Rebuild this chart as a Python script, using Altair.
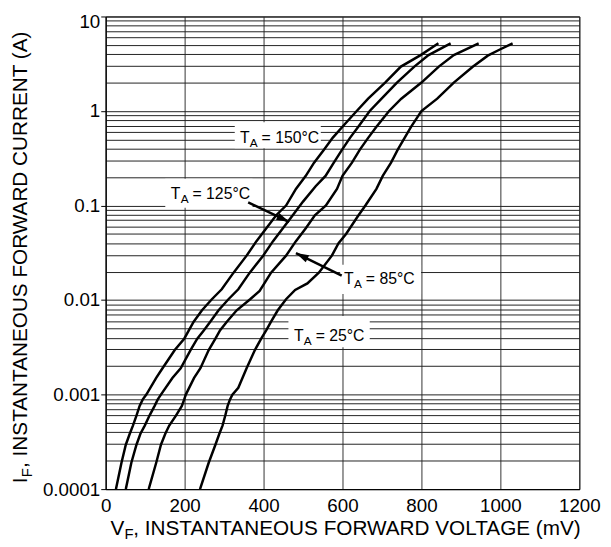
import math
import altair as alt
import pandas as pd

# ---------------- data ----------------
# forward voltage in mV, forward current in A, one pair of lists per temperature
v150 = [26, 40, 51, 61, 69, 78, 86, 94, 103, 128, 144, 175, 199, 211, 223, 244, 269, 294, 324, 357,
        382, 407, 432, 457, 482, 507, 528, 553, 575, 605, 636, 665, 708, 748, 798, 843]
i150 = [1.0e-4, 1.9e-4, 2.95e-4, 3.85e-4, 4.7e-4, 6.0e-4, 7.6e-4, 8.9e-4, 1.0e-3, 1.5e-3, 1.9e-3,
        2.96e-3, 3.9e-3, 4.8e-3, 5.9e-3, 7.8e-3, 1.02e-2, 1.3e-2, 1.95e-2, 2.95e-2, 4.2e-2, 5.75e-2,
        7.9e-2, 0.10, 0.15, 0.206, 0.284, 0.39, 0.52, 0.72, 1.0, 1.35, 2.0, 2.95, 3.9, 5.2]

v125 = [51, 65, 78, 88, 99, 111, 124, 132, 140, 169, 190, 215, 232, 249, 265, 286, 311, 336, 365,
        399, 424, 449, 474, 500, 532, 557, 578, 599, 619, 640, 669, 699, 738, 782, 818, 874]
i125 = [1.0e-4, 1.9e-4, 2.95e-4, 3.85e-4, 4.7e-4, 6.0e-4, 7.6e-4, 8.9e-4, 1.0e-3, 1.5e-3, 1.9e-3,
        2.96e-3, 3.9e-3, 4.8e-3, 5.9e-3, 7.8e-3, 1.02e-2, 1.3e-2, 1.95e-2, 2.95e-2, 4.2e-2, 5.75e-2,
        7.9e-2, 0.11, 0.16, 0.206, 0.284, 0.39, 0.52, 0.68, 1.0, 1.35, 2.0, 2.95, 3.9, 5.2]

v85 = [109, 128, 140, 151, 161, 178, 193, 199, 203, 224, 240, 261, 278, 290, 307, 332, 366, 390,
       419, 457, 482, 507, 530, 558, 586, 600, 624, 644, 665, 686, 718, 749, 800, 844, 882, 945]
i85 = [1.0e-4, 1.9e-4, 2.95e-4, 3.85e-4, 4.7e-4, 6.0e-4, 7.6e-4, 8.9e-4, 1.0e-3, 1.5e-3, 1.9e-3,
       2.96e-3, 3.9e-3, 4.8e-3, 5.9e-3, 7.8e-3, 1.02e-2, 1.25e-2, 1.95e-2, 2.95e-2, 4.2e-2, 5.75e-2,
       7.9e-2, 0.10, 0.15, 0.206, 0.284, 0.39, 0.52, 0.68, 1.0, 1.35, 2.0, 2.95, 3.9, 5.2]

v25 = [239, 261, 278, 288, 296, 303, 309, 315, 321, 336, 357, 378, 394, 407, 419, 436, 457, 480,
       511, 540, 573, 590, 609, 638, 658, 686, 702, 723, 740, 757, 774, 800, 840, 882, 930, 968,
       1000, 1031]
i25 = [1.0e-4, 1.9e-4, 2.95e-4, 3.85e-4, 4.7e-4, 6.0e-4, 7.6e-4, 8.9e-4, 1.0e-3, 1.18e-3, 1.9e-3,
       2.96e-3, 3.9e-3, 4.8e-3, 5.9e-3, 7.8e-3, 1.02e-2, 1.28e-2, 1.5e-2, 1.95e-2, 2.95e-2, 4.0e-2,
       5.0e-2, 7.6e-2, 0.10, 0.15, 0.206, 0.284, 0.39, 0.516, 0.684, 1.0, 1.35, 2.0, 2.94, 3.85,
       4.5, 5.2]

temps = ["150", "125", "85", "25"]
x_ticks = [0, 200, 400, 600, 800, 1000, 1200]
y_decades = [0.0001, 0.001, 0.01, 0.1, 1, 10]
y_decade_labels = ["0.0001", "0.001", "0.01", "0.1", "1", "10"]

# annotation labels (text start at baseline, in data units) and their white boxes
ann_text = ["= 150°C", "= 125°C", "= 85°C", "= 25°C"]
ann_v = [340, 165, 604, 477]
ann_i = [0.455, 0.118, 0.0147, 0.00365]
box_v1 = [327, 151, 594, 463]
box_v2 = [545, 372, 799, 669]
box_i1 = [0.762, 0.192, 0.0237, 0.0068]
box_i2 = [0.404, 0.0948, 0.01156, 0.00316]

# arrows (tail -> tip)
arr_v_tail = [361, 598]
arr_i_tail = [0.108, 0.0181]
arr_v_tip = [465, 482]
arr_i_tip = [0.0671, 0.0314]

# ---------------- build ----------------
FONT = "Liberation Sans, Arial, Helvetica, sans-serif"
W, H = 480, 479

rows = []
for t, vs, cs in zip(temps, [v150, v125, v85, v25], [i150, i125, i85, i25]):
    for v, c in zip(vs, cs):
        rows.append({"T": t, "V": v, "I": c})
df = pd.DataFrame(rows)

ann_df = pd.DataFrame({"V": ann_v, "I": ann_i, "txt": ann_text})
box_df = pd.DataFrame({"x1": box_v1, "x2": box_v2, "y1": box_i1, "y2": box_i2})


def to_px(v, c):
    return v / 1200 * W, (1 - (math.log10(c) + 4) / 5) * H


angles = []
for vt, it, vp, ip in zip(arr_v_tail, arr_i_tail, arr_v_tip, arr_i_tip):
    x0, y0 = to_px(vt, it)
    x1, y1 = to_px(vp, ip)
    th = math.degrees(math.atan2(y1 - y0, x1 - x0))
    angles.append((th + 90) % 360)
arr_df = pd.DataFrame({"Vt": arr_v_tail, "It": arr_i_tail, "Vp": arr_v_tip, "Ip": arr_i_tip,
                       "ang": angles})

ygrid = [float(f"{m}e{k}") for k in range(-4, 1) for m in range(1, 10)] + [10.0]
dec_test = "indexof([" + ",".join(str(d) for d in y_decades) + "], datum.value) >= 0"
label_expr = ""
for d, lab in zip(y_decades, y_decade_labels):
    label_expr += f"datum.value == {d} ? '{lab}' : "
label_expr += "''"

xscale = alt.Scale(domain=[0, 1200], nice=False, zero=False)
yscale = alt.Scale(type="log", domain=[0.0001, 10], nice=False)

xaxis = alt.Axis(values=x_ticks, title=None, grid=True, gridColor="#333", gridWidth=1,
                 ticks=False, tickSize=0, labelPadding=8, labelFontSize=19, labelFont=FONT,
                 labelColor="black", domainColor="black", labelFlush=False, labelOverlap=False,
                 format="d")
yaxis = alt.Axis(values=ygrid, title=None, grid=True, gridColor="#222", gridWidth=1,
                 labelExpr=label_expr, labelFontSize=19, labelFont=FONT, labelColor="black",
                 labelPadding=1, tickSize=5, tickColor="black",
                 tickOpacity={"condition": {"test": dec_test, "value": 1}, "value": 0},
                 labelOffset={"condition": {"test": "datum.value == 10", "value": 5}, "value": 0},
                 domainColor="black", labelOverlap=False, labelFlush=False)

boxes = alt.Chart(box_df).mark_rect(color="white").encode(
    x=alt.X("x1:Q", scale=xscale, axis=xaxis), x2="x2:Q",
    y=alt.Y("y1:Q", scale=yscale, axis=yaxis), y2="y2:Q")

lines = alt.Chart(df).mark_line(color="black", strokeWidth=2.5, clip=True).encode(
    x=alt.X("V:Q", scale=xscale, axis=xaxis),
    y=alt.Y("I:Q", scale=yscale, axis=yaxis),
    detail="T:N", order="V:Q")

arrow_lines = alt.Chart(arr_df).mark_rule(color="black", strokeWidth=2.5).encode(
    x=alt.X("Vt:Q", scale=xscale, axis=xaxis), y=alt.Y("It:Q", scale=yscale, axis=yaxis),
    x2="Vp:Q", y2="Ip:Q")

arrow_heads = alt.Chart(arr_df).mark_point(
    shape="M0,0L-0.6,2L0.6,2Z", filled=True, size=170, color="black", opacity=1).encode(
    x=alt.X("Vp:Q", scale=xscale, axis=xaxis), y=alt.Y("Ip:Q", scale=yscale, axis=yaxis),
    angle=alt.Angle("ang:Q", scale=None))


def ann_layer(text=None, dx=0, dy=0, size=16, field=None):
    kw = dict(align="left", baseline="alphabetic", font=FONT, fontSize=size, color="black",
              dx=dx, dy=dy)
    if text is not None:
        kw["text"] = text
    m = alt.Chart(ann_df).mark_text(**kw)
    enc = dict(x=alt.X("V:Q", scale=xscale, axis=xaxis), y=alt.Y("I:Q", scale=yscale, axis=yaxis))
    if field is not None:
        enc["text"] = alt.Text(field + ":N")
    return m.encode(**enc)


ann_T = ann_layer(text="T")
ann_A = ann_layer(text="A", dx=10, dy=4, size=12)
ann_rest = ann_layer(dx=22, field="txt")

one = pd.DataFrame({"k": [0]})


def free_text(text, x, y, size, dx=0, dy=0, angle=0):
    kw = dict(text=text, align="left", baseline="alphabetic", font=FONT, fontSize=size,
              color="black", dx=dx, dy=dy)
    if angle:
        kw["angle"] = angle
    return alt.Chart(one).mark_text(**kw).encode(x=alt.value(x), y=alt.value(y))


XT_X, XT_Y = 5, 525
x_title = [
    free_text("V", XT_X, XT_Y, 21),
    free_text("F", XT_X, XT_Y, 15, dx=14, dy=5),
    free_text(", INSTANTANEOUS FORWARD VOLTAGE (mV)", XT_X, XT_Y, 21, dx=23),
]
YT_X, YT_Y = -80, 473
y_title = [
    free_text("I", YT_X, YT_Y, 21, angle=270),
    free_text("F", YT_X, YT_Y, 15, dx=6, dy=5, angle=270),
    free_text(", INSTANTANEOUS FORWARD CURRENT (A)", YT_X, YT_Y, 21, dx=15.5, angle=270),
]

chart = alt.layer(boxes, lines, arrow_lines, arrow_heads, ann_T, ann_A, ann_rest,
                  *x_title, *y_title).properties(
    width=W, height=H,
    padding={"left": 99, "top": 5, "right": 24, "bottom": 50},
    autosize=alt.AutoSizeParams(type="none"),
).configure(background="white").configure_view(stroke="black", strokeWidth=1)

chart.save("out.html", embed_options={"renderer": "svg", "actions": False})
